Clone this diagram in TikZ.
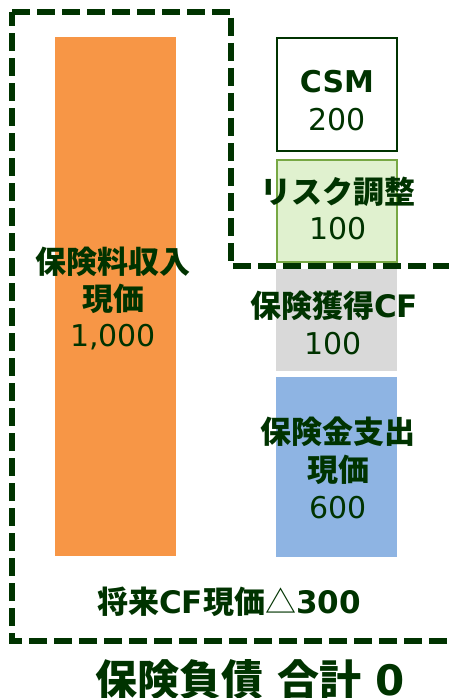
\documentclass[tikz,border=0pt]{standalone}
\usepackage{fontspec}
\setmainfont{DejaVu Sans}
\newfontfamily\jp{Noto Sans CJK JP}
\definecolor{dkgreen}{RGB}{0,51,0}
\definecolor{barorange}{HTML}{F79646}
\definecolor{riskfill}{HTML}{E0F1CF}
\definecolor{riskline}{HTML}{77A844}
\definecolor{acqgray}{HTML}{D9D9D9}
\definecolor{claimblue}{HTML}{8EB4E3}
\tikzset{
  bar/.style={inner sep=0pt, outer sep=0pt},
  lbl/.style={inner sep=0pt, text=dkgreen, font=\fontsize{30}{30}\selectfont},
  jlbl/.style={inner sep=0pt, text=dkgreen, font=\jp\bfseries\fontsize{31}{31}\selectfont},
  dashline/.style={draw=dkgreen, line width=5.5pt, dash pattern=on 18pt off 7pt}
}
\begin{document}
\begin{tikzpicture}[x=1pt,y=-1pt]
\useasboundingbox (0,0) rectangle (448,698);
% bars
\node[bar, fill=barorange, minimum width=121pt, minimum height=519pt] (prem) at (115.5,296.5) {};
\node[bar, fill=white, draw=dkgreen, line width=2pt, minimum width=120pt, minimum height=112pt] (csm) at (336.5,94.5) {};
\node[bar, fill=riskfill, draw=riskline, line width=2pt, minimum width=120pt, minimum height=102pt] (risk) at (336.5,210.5) {};
\node[bar, fill=acqgray, minimum width=121pt, minimum height=102pt] (acq) at (336.5,320) {};
\node[bar, fill=claimblue, minimum width=121pt, minimum height=180pt] (claim) at (336.5,467) {};
% dashed outline
\draw[dashline] (12,12) -- (231,12) -- (231,266) -- (452.5,266) -- (452.5,641) -- (12,641) -- cycle;
% labels
\node[jlbl] (premA) at (113,262) {保険料収入};
\node[jlbl] (premB) at (113,299) {現価};
\node[lbl] (premC) at (113,337) {1,000};
\node[lbl, font=\bfseries\fontsize{30}{30}\selectfont] (csmA) at (337,82) {CSM};
\node[lbl] (csmB) at (337,120) {200};
\node[jlbl] (riskA) at (338,192) {リスク調整};
\node[lbl] (riskB) at (338,229) {100};
\node[jlbl] (acqA) at (334,306) {保険獲得{\fontspec{DejaVu Sans}\bfseries CF}};
\node[lbl] (acqB) at (333,344) {100};
\node[jlbl] (claimA) at (338,432) {保険金支出};
\node[jlbl] (claimB) at (338,470) {現価};
\node[lbl] (claimC) at (338,508) {600};
\node[jlbl] (fcf) at (229,602) {将来{\fontspec{DejaVu Sans}\bfseries CF}現価{\mdseries△}{\fontspec{DejaVu Sans}\bfseries 300}};
\node[jlbl, font=\jp\bfseries\fontsize{42}{42}\selectfont] (total) at (250,680) {保険負債\hspace{14pt}合計\hspace{14pt}{\fontspec{DejaVu Sans}\bfseries 0}};
\end{tikzpicture}
\end{document}
